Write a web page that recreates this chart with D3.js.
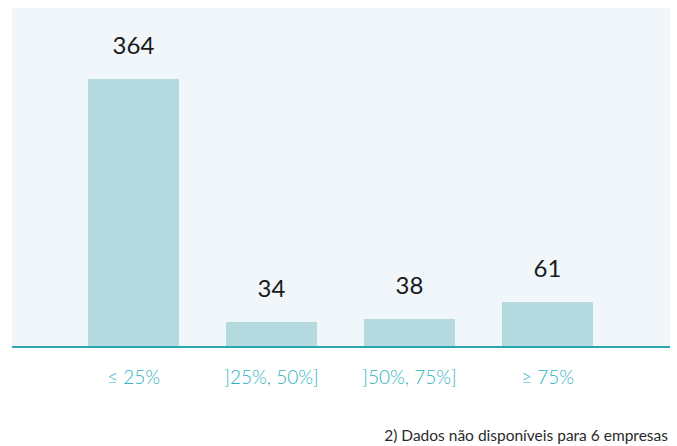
<!DOCTYPE html>
<html><head><meta charset="utf-8">
<script src="https://cdn.jsdelivr.net/npm/d3@7"></script>
<style>body{margin:0;background:#fff;}svg{display:block;}</style>
</head><body>
<svg id="c" width="677" height="446"></svg>
<script>
const categories = ["≤ 25%", "]25%, 50%]", "]50%, 75%]", "≥ 75%"];
const values = [364, 34, 38, 61];
const footnote = "2) Dados não disponíveis para 6 empresas";

const svg = d3.select("#c");
const base = 347;
const x = d3.scaleBand().domain(categories).range([64.5, 616.5]).paddingInner(0.34).paddingOuter(0.17);
const y = d3.scaleLinear().domain([0, 364]).range([base, 79]);

svg.append("rect").attr("x", 12).attr("y", 8).attr("width", 658).attr("height", base - 8).attr("fill", "#f0f6f9");

svg.selectAll("rect.bar").data(values).join("rect").attr("class", "bar")
  .attr("x", (d, i) => x(categories[i])).attr("width", x.bandwidth())
  .attr("y", d => y(d)).attr("height", d => base - y(d)).attr("fill", "#b4dadf");

svg.append("line").attr("x1", 12).attr("x2", 670).attr("y1", base).attr("y2", base)
  .attr("stroke", "#2aa6b2").attr("stroke-width", 2);

svg.selectAll("text.val").data(values).join("text").attr("class", "val")
  .attr("x", (d, i) => x(categories[i]) + x.bandwidth() / 2).attr("y", d => y(d) - 25)
  .attr("text-anchor", "middle").attr("font-family", "Lato, sans-serif").attr("font-size", 24)
  .attr("fill", "#1a1a1a").text(d => d);

svg.selectAll("text.cat").data(categories).join("text").attr("class", "cat")
  .attr("x", d => x(d) + x.bandwidth() / 2).attr("y", 384)
  .attr("text-anchor", "middle").attr("font-family", "Lato, sans-serif").attr("font-weight", 300)
  .attr("font-size", 19).attr("fill", "#2fb3bf").text(d => d);

svg.append("text").attr("x", 668).attr("y", 441).attr("text-anchor", "end")
  .attr("font-family", "Lato, sans-serif").attr("font-size", 15.5).attr("fill", "#2a2a2a").text(footnote);
</script>
</body></html>
